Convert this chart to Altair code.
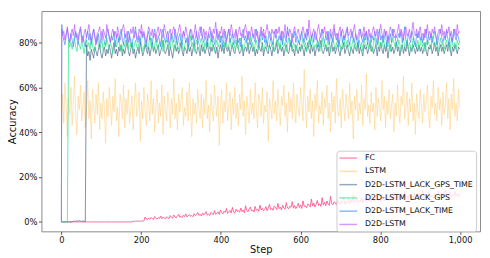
import altair as alt
import pandas as pd

STEPS = [0, 1] + list(range(3, 1000, 3))

FC = ([0] * 61 +
      [0.3, 0.2, 0.4, 0.3, 0.5, 0.2, 0.4, 0.3, 0.5, 0.4] +
      [2.2, 1.3, 1.0, 1.7, 1.2, 2.0, 1.4, 1.1, 2.4, 1.6, 1.3, 1.9, 1.5, 2.6, 1.4, 2.1, 1.7, 1.3, 2.3, 1.8,
       1.5, 2.8, 2.0, 1.7, 3.1, 2.2, 1.8, 2.6, 3.4, 2.1, 2.5, 1.9, 3.0, 2.4, 3.6, 2.2, 2.8, 3.3, 2.5, 2.9,
       2.3, 3.7, 2.8, 3.2, 4.2, 2.9, 3.4, 2.6, 4.0, 3.1, 3.6, 4.6, 3.0, 3.5, 2.8, 4.3, 3.7, 3.2, 5.0, 3.4,
       3.9, 4.5, 3.3, 5.3, 4.1, 3.6, 4.8, 4.2, 6.0, 3.8, 4.6, 5.2, 4.0, 6.5, 4.4, 3.9, 5.6, 4.7, 5.1, 4.3,
       6.2, 4.6, 5.3, 4.1, 7.2, 5.0, 4.5, 5.8, 6.6, 4.8, 5.4, 4.4, 6.9, 5.1, 5.7, 4.7, 7.5, 5.3, 6.1, 4.9,
       5.6, 6.8, 5.0, 6.3, 7.8, 5.4, 6.0, 5.2, 7.1, 6.4, 5.5, 8.2, 5.9, 6.6, 5.3, 7.4, 6.1, 5.7, 8.6, 6.2,
       5.8, 7.0, 6.5, 9.0, 6.1, 7.3, 5.9, 6.8, 8.3, 6.4, 7.6, 6.0, 9.4, 6.9, 7.2, 6.3, 8.0, 7.5, 6.6, 10.2,
       7.1, 8.4, 6.7, 7.8, 9.6, 7.3, 8.1, 6.9, 10.8, 7.6, 8.7, 7.2, 9.3, 8.0, 7.4, 11.4, 8.2, 7.7, 9.0, 8.5,
       7.6, 10.0, 8.3, 7.9, 9.4, 8.6, 11.2, 7.8, 9.1, 8.4, 10.4, 8.0, 9.7, 8.8, 12.0, 8.3, 9.2, 10.6, 8.5, 9.5,
       8.9, 11.0, 8.6, 9.8, 10.3, 8.7, 12.4, 9.3, 10.1, 8.8, 11.5, 9.6, 9.0, 10.8, 12.9, 9.4, 10.2, 9.1, 11.7, 9.9,
       9.3, 10.6, 12.2, 9.7, 10.4, 9.5, 11.9, 10.1, 13.2, 9.8, 10.7, 11.3, 9.6, 12.6, 10.3, 11.0, 9.9, 13.6, 10.5, 11.4,
       10.0, 12.1, 10.8, 11.5, 9.8, 13.0, 10.6, 11.8, 10.2, 12.7, 11.1, 10.4, 14.0, 11.3, 10.7, 12.3, 11.0, 13.4, 10.5, 11.9,
       11.2, 10.6, 12.9, 11.5, 10.9, 13.8, 11.3, 12.2, 10.8, 12.6, 11.7, 14.2, 11.0, 12.4, 11.6, 13.1, 10.9, 12.0, 11.4, 13.5,
       11.8, 12.5, 11.1, 12.9])

LSTM = [40, 46, 57, 44, 62, 51, 38, 55, 48, 60, 43, 53, 65, 47, 39, 56, 50, 61, 45, 52,
        58, 42, 49, 63, 46, 54, 37, 59, 51, 44, 57, 48, 62, 41, 53, 46, 58, 50, 35, 55,
        47, 60, 52, 43, 56, 49, 64, 45, 51, 38, 57, 53, 46, 61, 42, 55, 48, 59, 44, 50,
        56, 41, 53, 62, 47, 50, 58, 36, 54, 46, 60, 49, 43, 57, 52, 45, 63, 48, 55, 40,
        51, 59, 44, 53, 47, 61, 39, 56, 50, 45, 58, 52, 42, 55, 48, 64, 46, 53, 41, 57,
        49, 54, 60, 43, 51, 47, 58, 45, 62, 50, 38, 55, 48, 53, 44, 59, 51, 46, 57, 42,
        55, 48, 63, 46, 52, 40, 57, 50, 45, 61, 53, 47, 56, 34, 51, 59, 44, 54, 49, 62,
        45, 52, 58, 41, 55, 48, 60, 46, 53, 43, 57, 50, 65, 47, 54, 39, 56, 51, 44, 59,
        48, 53, 46, 62, 50, 42, 57, 54, 47, 60, 44, 52, 49, 58, 36, 55, 51, 46, 63, 48,
        54, 45, 59, 50, 43, 56, 52, 61, 47, 53, 40, 58, 49, 55, 46, 62, 51, 44, 57, 50,
        47, 60, 53, 45, 68, 51, 42, 56, 49, 59, 46, 54, 38, 57, 50, 63, 44, 52, 48, 58,
        43, 55, 51, 61, 46, 53, 40, 58, 49, 56, 44, 64, 50, 47, 55, 42, 59, 52, 45, 57,
        51, 46, 62, 48, 54, 37, 56, 50, 59, 45, 53, 48, 61, 43, 55, 50, 66, 47, 52, 44,
        58, 49, 53, 41, 60, 47, 55, 51, 45, 63, 50, 56, 42, 54, 48, 59, 46, 52, 57, 40,
        53, 47, 61, 50, 44, 56, 52, 65, 46, 51, 58, 43, 55, 49, 62, 45, 53, 39, 57, 50,
        46, 59, 52, 44, 57, 49, 54, 61, 47, 42, 56, 51, 63, 48, 53, 45, 60, 50, 55, 43,
        58, 48, 52, 62, 46, 55, 41, 57, 50, 64, 47, 53, 45, 59, 51]

LACK_GPS_TIME = [0, 0, 0, 0, 0, 0, 0, 0, 0, 0, 0, 0.3, 0.4, 0.2, 0.5, 0.3, 0.6, 0.4, 0.2, 0.5,
                 0.3, 0, 79, 74, 76, 72, 77, 75, 73, 78, 76, 74, 77, 79, 75, 73, 76, 78, 74, 77,
                 75, 79, 76, 73, 77, 80, 75, 77, 74, 78, 76, 79, 74, 77, 75, 78, 80, 76, 74, 77,
                 79, 75, 77, 73, 76, 78, 75, 80, 77, 74, 76, 79, 77, 75, 78, 74, 77, 80, 76, 78,
                 75, 77, 79, 74, 76, 78, 81, 76, 75, 77, 79, 74, 78, 76, 73, 77, 79, 76, 78, 75,
                 77, 80, 76, 74, 78, 77, 75, 79, 76, 78, 74, 77, 80, 76, 75, 78, 77, 74, 79, 76,
                 78, 75, 77, 80, 76, 74, 78, 76, 79, 77, 75, 78, 73, 77, 79, 76, 78, 75, 80, 77,
                 76, 78, 74, 77, 79, 76, 75, 78, 81, 77, 75, 76, 79, 74, 77, 78, 76, 80, 75, 77,
                 79, 76, 78, 74, 77, 75, 79, 77, 76, 80, 74, 77, 78, 76, 75, 79, 77, 74, 78, 76,
                 77, 80, 75, 77, 79, 76, 78, 74, 77, 79, 76, 75, 78, 80, 76, 77, 74, 79, 77, 75,
                 78, 76, 79, 77, 74, 78, 76, 80, 77, 75, 79, 76, 78, 74, 77, 79, 76, 78, 81, 76,
                 75, 77, 79, 76, 78, 74, 77, 80, 76, 78, 75, 77, 79, 76, 74, 78, 77, 80, 75, 77,
                 79, 76, 74, 78, 77, 75, 79, 77, 76, 80, 75, 78, 76, 74, 79, 77, 78, 75, 77, 80,
                 76, 78, 75, 77, 79, 74, 78, 76, 80, 77, 75, 79, 76, 78, 73, 77, 79, 76, 78, 75,
                 77, 80, 76, 78, 74, 77, 79, 75, 78, 76, 80, 77, 74, 78, 76, 79, 77, 75, 78, 76,
                 79, 76, 78, 75, 77, 80, 76, 74, 78, 77, 79, 75, 77, 80, 76, 78, 74, 77, 79, 76,
                 78, 75, 77, 79, 76, 80, 77, 74, 78, 76, 79, 77, 75, 78, 77]

LACK_GPS = [0, 0, 0, 0, 0, 0, 0, 81, 78, 80, 77, 79, 82, 78, 76, 80, 79, 77, 81, 78,
            75, 79, 81, 78, 80, 77, 82, 79, 76, 78, 80, 83, 78, 77, 79, 81, 76, 80, 78, 82,
            79, 77, 80, 78, 75, 79, 81, 78, 80, 82, 77, 79, 76, 80, 78, 81, 79, 77, 83, 78,
            80, 76, 79, 81, 78, 77, 80, 82, 79, 76, 78, 80, 81, 77, 79, 83, 78, 80, 76, 79,
            81, 78, 77, 80, 79, 82, 76, 78, 80, 81, 77, 79, 78, 82, 80, 76, 79, 81, 78, 77,
            80, 82, 79, 76, 78, 81, 80, 77, 79, 83, 78, 80, 76, 79, 81, 78, 77, 80, 82, 79,
            76, 80, 78, 81, 79, 77, 82, 80, 78, 76, 79, 81, 78, 80, 83, 77, 79, 78, 81, 80,
            77, 79, 82, 78, 80, 76, 79, 81, 78, 77, 80, 82, 79, 76, 78, 81, 80, 77, 79, 83,
            78, 80, 76, 79, 81, 78, 77, 82, 80, 79, 76, 78, 81, 80, 77, 79, 82, 78, 80, 76,
            79, 81, 78, 80, 77, 83, 79, 78, 80, 76, 79, 82, 78, 81, 77, 80, 79, 76, 78, 81,
            80, 77, 79, 82, 78, 80, 76, 79, 81, 78, 83, 80, 77, 79, 78, 81, 80, 76, 79, 82,
            78, 80, 77, 79, 81, 78, 76, 80, 82, 79, 77, 80, 78, 81, 79, 76, 80, 83, 78, 79,
            81, 78, 80, 76, 79, 82, 78, 80, 77, 79, 81, 78, 80, 76, 82, 79, 78, 80, 77, 81,
            79, 76, 80, 82, 78, 79, 81, 77, 80, 78, 83, 79, 77, 80, 78, 81, 76, 79, 82, 80,
            78, 80, 77, 81, 79, 76, 80, 82, 78, 79, 81, 77, 80, 78, 76, 82, 79, 80, 78, 81,
            77, 79, 82, 78, 80, 76, 79, 81, 80, 78, 77, 83, 79, 80, 78, 81, 76, 79, 82, 78,
            80, 77, 79, 81, 78, 80, 76, 82, 79, 78, 80, 77, 81, 79, 80]

LACK_TIME = [0, 88, 84, 81, 79, 83, 86, 82, 80, 84, 81, 78, 83, 85, 82, 79, 84, 86, 81, 83,
             80, 78, 83, 85, 81, 84, 79, 82, 86, 83, 80, 81, 84, 78, 82, 85, 83, 80, 79, 84,
             86, 82, 80, 83, 81, 85, 78, 82, 84, 80, 83, 86, 81, 79, 84, 82, 80, 85, 83, 81,
             78, 82, 84, 87, 81, 80, 83, 79, 85, 82, 84, 80, 78, 83, 85, 81, 82, 79, 84, 86,
             82, 80, 83, 81, 78, 84, 86, 82, 80, 83, 85, 79, 81, 84, 82, 80, 86, 83, 79, 82,
             84, 81, 79, 85, 83, 80, 82, 78, 84, 86, 81, 83, 80, 82, 85, 79, 81, 84, 87, 82,
             80, 83, 81, 78, 84, 82, 85, 80, 83, 79, 81, 86, 82, 84, 80, 83, 78, 82, 85, 81,
             83, 86, 80, 82, 84, 79, 81, 85, 83, 80, 82, 78, 84, 86, 81, 83, 80, 85, 82, 79,
             81, 84, 82, 80, 86, 83, 79, 82, 85, 81, 84, 80, 83, 78, 82, 85, 83, 81, 79, 84,
             86, 82, 80, 83, 81, 85, 79, 84, 82, 80, 87, 83, 81, 78, 84, 82, 85, 80, 83, 81,
             79, 83, 85, 82, 80, 84, 81, 86, 83, 79, 82, 84, 80, 85, 83, 81, 78, 82, 84, 86,
             82, 80, 83, 81, 85, 79, 84, 82, 80, 86, 83, 81, 84, 78, 82, 85, 80, 83, 81, 84,
             86, 81, 79, 83, 85, 82, 80, 84, 81, 78, 83, 86, 82, 80, 84, 81, 85, 79, 82, 84,
             80, 83, 81, 85, 82, 79, 84, 86, 81, 83, 80, 82, 85, 78, 83, 81, 84, 80, 86, 82,
             83, 79, 81, 84, 82, 85, 80, 83, 87, 81, 79, 84, 82, 80, 85, 83, 81, 78, 84, 82,
             85, 81, 83, 80, 84, 82, 86, 79, 83, 81, 84, 80, 82, 85, 83, 79, 81, 84, 86, 82,
             80, 83, 81, 85, 82, 79, 84, 82, 80, 86, 83, 81, 84, 82, 80]

D2D_LSTM = [0, 86, 83, 85, 81, 84, 87, 82, 80, 84, 86, 83, 88, 82, 84, 81, 85, 87, 83, 80,
            84, 86, 82, 85, 88, 83, 81, 84, 86, 82, 79, 84, 85, 87, 83, 81, 86, 84, 82, 88,
            85, 83, 80, 84, 86, 83, 85, 82, 87, 84, 81, 83, 86, 88, 84, 82, 85, 80, 83, 86,
            84, 87, 82, 85, 83, 81, 86, 84, 88, 83, 85, 82, 80, 84, 87, 85, 83, 86, 82, 84,
            81, 85, 87, 83, 86, 84, 82, 88, 85, 83, 80, 84, 86, 82, 85, 87, 84, 81, 83, 86,
            88, 84, 82, 85, 83, 87, 84, 80, 83, 86, 85, 82, 84, 88, 83, 81, 85, 87, 84, 82,
            86, 83, 85, 81, 84, 87, 85, 82, 86, 84, 89, 83, 81, 85, 84, 87, 82, 86, 83, 80,
            84, 86, 83, 88, 85, 82, 84, 86, 81, 85, 87, 83, 84, 82, 86, 88, 84, 81, 85, 83,
            87, 84, 82, 86, 83, 85, 80, 84, 87, 83, 86, 82, 85, 88, 84, 83, 81, 86, 84, 85,
            82, 86, 84, 87, 83, 81, 85, 84, 88, 82, 85, 83, 86, 84, 80, 85, 87, 83, 84, 86,
            83, 81, 85, 87, 84, 82, 86, 83, 90, 85, 82, 84, 86, 83, 81, 85, 88, 84, 82, 86,
            84, 87, 83, 85, 81, 84, 86, 82, 85, 88, 83, 84, 80, 85, 87, 83, 86, 84, 82, 85,
            87, 83, 84, 86, 82, 85, 88, 84, 81, 83, 86, 85, 82, 84, 87, 83, 85, 81, 86, 84,
            82, 85, 87, 84, 83, 86, 81, 85, 88, 84, 82, 86, 83, 85, 80, 84, 87, 85, 83, 86,
            84, 82, 85, 88, 83, 86, 84, 81, 85, 87, 83, 84, 86, 82, 85, 89, 84, 83, 86, 82,
            85, 87, 83, 84, 81, 86, 84, 88, 83, 85, 82, 86, 84, 87, 83, 81, 85, 86, 84, 88,
            83, 85, 82, 86, 84, 87, 83, 85, 81, 84, 86, 83, 88, 84, 85]

NAMES = ["FC", "LSTM", "D2D-LSTM_LACK_GPS_TIME", "D2D-LSTM_LACK_GPS",
         "D2D-LSTM_LACK_TIME", "D2D-LSTM"]
SERIES = [FC, LSTM, LACK_GPS_TIME, LACK_GPS, LACK_TIME, D2D_LSTM]
COLORS = ["#ff4f8c", "#ffcc77", "#4f7090", "#2fe68c", "#3d8cff", "#bd55ff"]
OPAC = [0.85, 0.55, 0.75, 0.75, 0.7, 0.7]
X_TICKS = [0, 200, 400, 600, 800, 1000]
Y_TICKS = [0, 20, 40, 60, 80]

rows = []
for name, vals in zip(NAMES, SERIES):
    for s, v in zip(STEPS, vals):
        rows.append({"step": s, "acc": v, "series": name})
df = pd.DataFrame(rows)

FONT = "DejaVu Sans"
color_scale = alt.Scale(domain=NAMES, range=COLORS)

layers = []
for name, op in zip(NAMES, OPAC):
    layers.append(
        alt.Chart(df).transform_filter(alt.datum.series == name)
        .mark_line(strokeWidth=1, opacity=op)
        .encode(
            x=alt.X("step:Q", scale=alt.Scale(domain=[-50, 1050], nice=False, zero=False),
                    axis=alt.Axis(values=X_TICKS, title="Step", grid=False, domain=False,
                                  titleY=19, titleBaseline="middle")),
            y=alt.Y("acc:Q", scale=alt.Scale(domain=[-4.2, 94], nice=False, zero=False),
                    axis=alt.Axis(values=Y_TICKS, title="Accuracy", grid=False, domain=False,
                                  labelExpr="datum.value + '%'",
                                  titleX=-29, titleY=112, titleAngle=-90,
                                  titleAlign="center", titleBaseline="middle")),
            color=alt.Color("series:N", scale=color_scale, sort=NAMES,
                            legend=alt.Legend(title=None, orient="none",
                                              legendX=300, legendY=142)),
        )
    )

chart = alt.layer(*layers).properties(
    width=446, height=224,
    autosize=alt.AutoSizeParams(type="none"),
    padding={"left": 34, "top": 1, "right": 2, "bottom": 25},
).configure_view(
    stroke="#8a8a8a", strokeWidth=1
).configure_axis(
    labelFont=FONT, titleFont=FONT, labelFontSize=8.5, titleFontSize=10,
    labelColor="#111", titleColor="#111", titleFontWeight="normal",
    tickColor="#555", tickSize=3, labelPadding=1.5
).configure_legend(
    labelFont=FONT, labelFontSize=8, labelColor="#111",
    fillColor="rgba(255,255,255,0.8)", strokeColor="#cccccc", cornerRadius=3,
    padding=3, symbolType="M-1.29,0H3.86", symbolSize=49, symbolStrokeWidth=1.5,
    symbolFillColor="transparent",
    symbolOpacity=0.6, rowPadding=4.5, labelOffset=17
)

chart.save("out.html", embed_options={"renderer": "svg", "actions": False})
